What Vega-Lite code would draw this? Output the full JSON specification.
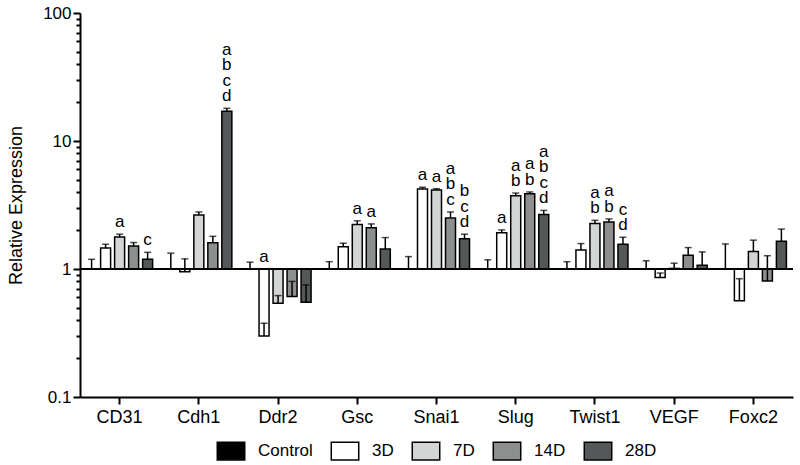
{
  "$schema": "https://vega.github.io/schema/vega-lite/v6.json",
  "width": 713,
  "height": 384,
  "autosize": {"type": "none"},
  "padding": {"left": 80, "top": 13, "right": 7, "bottom": 68},
  "background": "white",
  "config": {
    "view": {"stroke": null},
    "font": "Liberation Sans",
    "text": {"lineBreak": "\n"}
  },
  "data": {
    "values": [
      {"gene": "CD31", "group": "Control", "value": 1, "hi": 1.19, "letters": ""},
      {"gene": "CD31", "group": "3D", "value": 1.46, "hi": 1.56, "letters": ""},
      {"gene": "CD31", "group": "7D", "value": 1.78, "hi": 1.87, "letters": "a"},
      {"gene": "CD31", "group": "14D", "value": 1.51, "hi": 1.61, "letters": ""},
      {"gene": "CD31", "group": "28D", "value": 1.19, "hi": 1.35, "letters": "c"},
      {"gene": "Cdh1", "group": "Control", "value": 1, "hi": 1.33, "letters": ""},
      {"gene": "Cdh1", "group": "3D", "value": 0.95, "hi": 1.2, "letters": ""},
      {"gene": "Cdh1", "group": "7D", "value": 2.64, "hi": 2.79, "letters": ""},
      {"gene": "Cdh1", "group": "14D", "value": 1.6, "hi": 1.8, "letters": ""},
      {"gene": "Cdh1", "group": "28D", "value": 17.1, "hi": 18.0, "letters": "a\nb\nc\nd"},
      {"gene": "Ddr2", "group": "Control", "value": 1, "hi": 1.13, "letters": ""},
      {"gene": "Ddr2", "group": "3D", "value": 0.3, "hi": 0.377, "letters": "a"},
      {"gene": "Ddr2", "group": "7D", "value": 0.54, "hi": 0.62, "letters": ""},
      {"gene": "Ddr2", "group": "14D", "value": 0.61, "hi": 0.8, "letters": ""},
      {"gene": "Ddr2", "group": "28D", "value": 0.55, "hi": 0.75, "letters": ""},
      {"gene": "Gsc", "group": "Control", "value": 1, "hi": 1.14, "letters": ""},
      {"gene": "Gsc", "group": "3D", "value": 1.49, "hi": 1.59, "letters": ""},
      {"gene": "Gsc", "group": "7D", "value": 2.23, "hi": 2.38, "letters": "a"},
      {"gene": "Gsc", "group": "14D", "value": 2.1, "hi": 2.25, "letters": "a"},
      {"gene": "Gsc", "group": "28D", "value": 1.43, "hi": 1.76, "letters": ""},
      {"gene": "Snai1", "group": "Control", "value": 1, "hi": 1.25, "letters": ""},
      {"gene": "Snai1", "group": "3D", "value": 4.22, "hi": 4.35, "letters": "a"},
      {"gene": "Snai1", "group": "7D", "value": 4.14, "hi": 4.24, "letters": "a"},
      {"gene": "Snai1", "group": "14D", "value": 2.5, "hi": 2.79, "letters": "a\nb\nc"},
      {"gene": "Snai1", "group": "28D", "value": 1.72, "hi": 1.87, "letters": "b\nc\nd"},
      {"gene": "Slug", "group": "Control", "value": 1, "hi": 1.18, "letters": ""},
      {"gene": "Slug", "group": "3D", "value": 1.92, "hi": 2.02, "letters": "a"},
      {"gene": "Slug", "group": "7D", "value": 3.74, "hi": 3.92, "letters": "a\nb"},
      {"gene": "Slug", "group": "14D", "value": 3.88, "hi": 4.0, "letters": "a\nb"},
      {"gene": "Slug", "group": "28D", "value": 2.66, "hi": 2.87, "letters": "a\nb\nc\nd"},
      {"gene": "Twist1", "group": "Control", "value": 1, "hi": 1.14, "letters": ""},
      {"gene": "Twist1", "group": "3D", "value": 1.41, "hi": 1.58, "letters": ""},
      {"gene": "Twist1", "group": "7D", "value": 2.27, "hi": 2.4, "letters": "a\nb"},
      {"gene": "Twist1", "group": "14D", "value": 2.33, "hi": 2.46, "letters": "a\nb"},
      {"gene": "Twist1", "group": "28D", "value": 1.56, "hi": 1.77, "letters": "c\nd"},
      {"gene": "VEGF", "group": "Control", "value": 1, "hi": 1.16, "letters": ""},
      {"gene": "VEGF", "group": "3D", "value": 0.86, "hi": 0.93, "letters": ""},
      {"gene": "VEGF", "group": "7D", "value": 1.01, "hi": 1.11, "letters": ""},
      {"gene": "VEGF", "group": "14D", "value": 1.28, "hi": 1.47, "letters": ""},
      {"gene": "VEGF", "group": "28D", "value": 1.07, "hi": 1.36, "letters": ""},
      {"gene": "Foxc2", "group": "Control", "value": 1, "hi": 1.57, "letters": ""},
      {"gene": "Foxc2", "group": "3D", "value": 0.565, "hi": 0.84, "letters": ""},
      {"gene": "Foxc2", "group": "7D", "value": 1.37, "hi": 1.68, "letters": ""},
      {"gene": "Foxc2", "group": "14D", "value": 0.806, "hi": 1.27, "letters": ""},
      {"gene": "Foxc2", "group": "28D", "value": 1.65, "hi": 2.05, "letters": ""}
    ]
  },
  "encoding": {
    "x": {
      "field": "gene",
      "type": "nominal",
      "sort": null,
      "scale": {"paddingInner": 0.116, "paddingOuter": 0.058},
      "axis": {
        "title": null,
        "labelAngle": 0,
        "labelFontSize": 18,
        "labelColor": "black",
        "labelPadding": 4,
        "tickSize": 7,
        "tickWidth": 2,
        "tickColor": "black",
        "domainColor": "black",
        "domainWidth": 2
      }
    },
    "xOffset": {
      "field": "group",
      "type": "nominal",
      "sort": ["Control", "3D", "7D", "14D", "28D"],
      "scale": {"paddingInner": 0.286, "paddingOuter": 0.143}
    }
  },
  "layer": [
    {
      "mark": {"type": "bar", "stroke": "black", "strokeWidth": 1.5},
      "encoding": {
        "y": {
          "field": "value",
          "type": "quantitative",
          "scale": {"type": "log", "domain": [0.1, 100], "nice": false},
          "axis": {
            "title": "Relative Expression",
            "titleFontSize": 18,
            "titleFontWeight": "normal",
            "titleColor": "black",
            "titlePadding": 17,
            "values": [0.1, 0.2, 0.3, 0.4, 0.5, 0.6, 0.7, 0.8, 0.9, 1, 2, 3, 4, 5, 6, 7, 8, 9, 10, 20, 30, 40, 50, 60, 70, 80, 90, 100],
            "labelExpr": "abs(log(datum.value)/LN10 - round(log(datum.value)/LN10)) < 0.001 ? (datum.value < 1 ? '0.1' : format(datum.value, 'd')) : ''",
            "labelFontSize": 17,
            "labelColor": "black",
            "labelPadding": 2,
            "tickSize": {"condition": {"test": "abs(log(datum.value)/LN10 - round(log(datum.value)/LN10)) < 0.001", "value": 7}, "value": 4},
            "tickWidth": 2,
            "tickColor": "black",
            "domainColor": "black",
            "domainWidth": 2,
            "grid": false
          }
        },
        "y2": {"datum": 1},
        "fill": {
          "field": "group",
          "type": "nominal",
          "sort": ["Control", "3D", "7D", "14D", "28D"],
          "scale": {
            "domain": ["Control", "3D", "7D", "14D", "28D"],
            "range": ["#000000", "#ffffff", "#d4d6d6", "#8d8f8f", "#555858"]
          },
          "legend": {
            "title": null,
            "orient": "none",
            "direction": "horizontal",
            "legendX": 141,
            "legendY": 428,
            "symbolType": "M-1.56,-1H1.56V1H-1.56Z",
            "symbolSize": 310,
            "symbolStrokeColor": "black",
            "symbolStrokeWidth": 1.5,
            "symbolOpacity": 1,
            "labelFontSize": 17,
            "labelColor": "black",
            "labelOffset": 17,
            "columnPadding": 15
          }
        }
      }
    },
    {
      "mark": {"type": "rule", "color": "black", "strokeWidth": 1.5},
      "encoding": {
        "y": {"field": "value", "type": "quantitative"},
        "y2": {"field": "hi"}
      }
    },
    {
      "mark": {"type": "tick", "color": "black", "size": 7, "thickness": 1.5},
      "encoding": {
        "y": {"field": "hi", "type": "quantitative"}
      }
    },
    {
      "mark": {"type": "rule", "color": "black", "strokeWidth": 2},
      "encoding": {
        "y": {"datum": 1},
        "x": {"value": 0},
        "x2": {"value": 713},
        "xOffset": null
      }
    },
    {
      "transform": [
        {"filter": "datum.letters != ''"},
        {"calculate": "max(datum.hi, 1)", "as": "ly"}
      ],
      "mark": {
        "type": "text",
        "baseline": "bottom",
        "dy": {"expr": "-3 - (length(datum.letters) - 1) / 2 * 15.5"},
        "fontSize": 17,
        "lineHeight": 15.5,
        "color": "black"
      },
      "encoding": {
        "y": {"field": "ly", "type": "quantitative"},
        "text": {"field": "letters"}
      }
    }
  ]
}
